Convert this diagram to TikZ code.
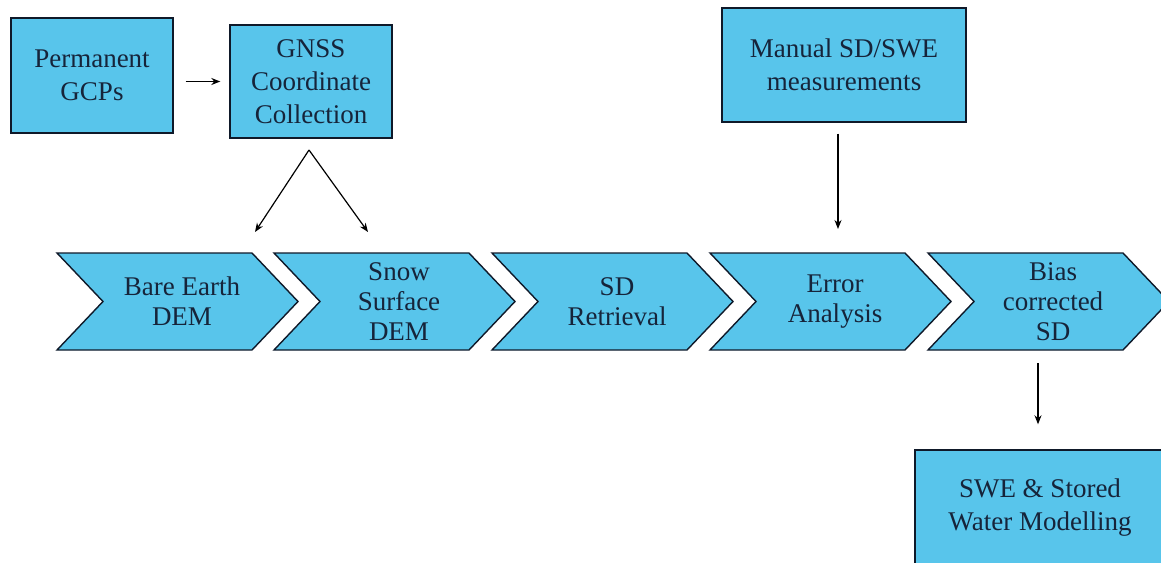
\documentclass[tikz,border=0pt]{standalone}
\usepackage{fontspec}
\setmainfont{Liberation Serif}
\usetikzlibrary{arrows.meta}
\definecolor{boxblue}{RGB}{88,197,235}
\definecolor{inkblue}{RGB}{22,36,58}
\tikzset{%
box/.style={draw=inkblue!70!black, fill=boxblue, line width=0.7pt, align=center,
            text=inkblue, font=\fontsize{13.5}{16.5}\selectfont, inner sep=0pt},
chev/.style={draw=inkblue!70!black, fill=boxblue, line width=0.7pt},
steptext/.style={align=center, text=inkblue, font=\fontsize{13.5}{15}\selectfont},
link/.style={-{Stealth[length=4.5pt,width=3.5pt]}, line width=0.6pt},
}

\begin{document}
\begin{tikzpicture}[x=0.5pt, y=-0.5pt]

\useasboundingbox (0,0) rectangle (1161,562);

\node[box, minimum width=81pt, minimum height=57.5pt] (perm) at (92,75.5) {Permanent\\GCPs};
\node[box, minimum width=81pt, minimum height=56.5pt] (gnss) at (311,81.5) {GNSS\\Coordinate\\Collection};
\node[box, minimum width=122pt, minimum height=57pt] (manual) at (844,65) {Manual SD/SWE\\measurements};
\node[box, minimum width=125pt, minimum height=58pt] (swe) at (1040,508) {SWE \& Stored\\Water Modelling};

\foreach \x/\name/\txt in {57/bare/{Bare Earth\\DEM},
                           274/snow/{Snow\\Surface\\DEM},
                           492/sd/{SD\\Retrieval},
                           710/error/{Error\\Analysis},
                           928/bias/{Bias\\corrected\\SD}}
{
  \draw[chev] (\x,253) -- (\x+195,253) -- (\x+241,301.5) -- (\x+195,350)
              -- (\x,350) -- (\x+46,301.5) -- cycle;
  \node[steptext] (\name) at (\x+125,301.5) {\txt};
}

\coordinate (apex) at (309,150);
\coordinate (baretop) at (255,232);
\coordinate (snowtop) at (368,232);
\coordinate (errortop) at (838,229);
\coordinate (biasbot) at (1038,363);

\draw[link, shorten <=6pt, shorten >=4.5pt] (perm.east |- gnss.west) -- (gnss.west);
\draw[link] (apex) -- (baretop);
\draw[link] (apex) -- (snowtop);
\draw[link, shorten <=5.5pt] (manual.south -| errortop) -- (errortop);
\draw[link, shorten >=12.5pt] (biasbot) -- (biasbot |- swe.north);

\end{tikzpicture}
\end{document}
